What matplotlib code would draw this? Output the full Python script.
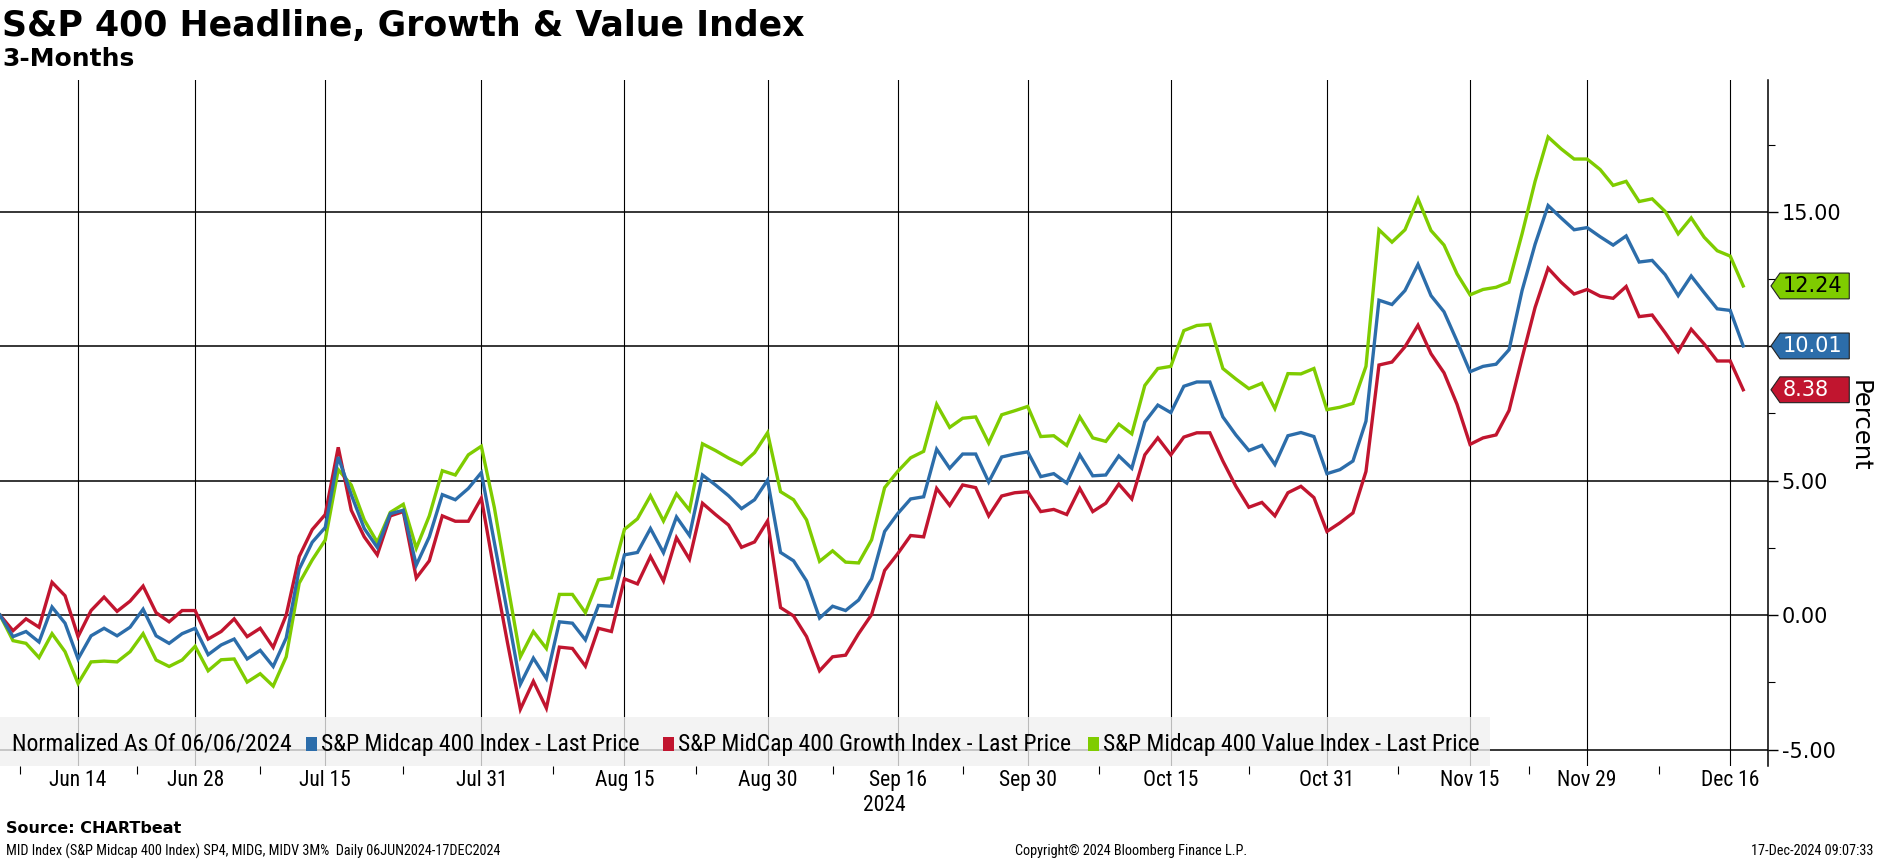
import matplotlib
matplotlib.use('Agg')
import matplotlib.pyplot as plt
import numpy as np
import pandas as pd
from matplotlib import font_manager
from matplotlib.patches import Polygon, Rectangle
from matplotlib.transforms import blended_transform_factory

# Trading days 06JUN2024 - 17DEC2024
holidays = ['2024-06-19', '2024-07-04', '2024-09-02', '2024-11-28']
dates = pd.bdate_range('2024-06-06', '2024-12-17', freq='C', holidays=holidays)

# Percent change since 06/06/2024
headline = [0.00, -0.80, -0.61, -1.00, 0.30, -0.30, -1.63, -0.77, -0.49, -0.77,
            -0.45, 0.22, -0.77, -1.05, -0.69, -0.49, -1.47, -1.11, -0.89, -1.63,
            -1.31, -1.91, -0.85, 1.71, 2.71, 3.26, 5.88, 4.48, 3.22, 2.52,
            3.77, 3.90, 1.86, 2.91, 4.48, 4.29, 4.71, 5.30, 2.70, 0.10,
            -2.57, -1.60, -2.36, -0.25, -0.30, -0.92, 0.36, 0.33, 2.24, 2.33,
            3.22, 2.32, 3.65, 2.96, 5.21, 4.84, 4.44, 3.96, 4.29, 5.02,
            2.33, 2.02, 1.27, -0.11, 0.33, 0.17, 0.56, 1.35, 3.11, 3.77,
            4.32, 4.40, 6.17, 5.46, 5.99, 5.99, 4.95, 5.88, 5.99, 6.07,
            5.15, 5.26, 4.91, 5.96, 5.18, 5.21, 5.92, 5.46, 7.18, 7.81,
            7.53, 8.51, 8.67, 8.67, 7.37, 6.70, 6.12, 6.31, 5.60, 6.67,
            6.79, 6.64, 5.26, 5.41, 5.73, 7.21, 11.71, 11.55, 12.07, 13.04,
            11.88, 11.28, 10.19, 9.05, 9.25, 9.33, 9.87, 12.07, 13.79, 15.23,
            14.77, 14.33, 14.41, 14.07, 13.76, 14.10, 13.13, 13.19, 12.66, 11.88,
            12.61, 11.99, 11.39, 11.33, 10.01]
growth = [0.00, -0.58, -0.14, -0.45, 1.22, 0.72, -0.80, 0.17, 0.67, 0.14,
          0.52, 1.08, 0.09, -0.25, 0.17, 0.17, -0.89, -0.61, -0.14, -0.80,
          -0.49, -1.20, 0.00, 2.18, 3.18, 3.74, 6.24, 3.90, 2.91, 2.24,
          3.69, 3.85, 1.38, 2.02, 3.69, 3.49, 3.49, 4.35, 1.60, -1.00,
          -3.50, -2.46, -3.46, -1.19, -1.24, -1.90, -0.49, -0.61, 1.35, 1.16,
          2.18, 1.27, 2.88, 2.08, 4.16, 3.74, 3.35, 2.52, 2.72, 3.50,
          0.28, -0.03, -0.80, -2.07, -1.55, -1.49, -0.69, 0.02, 1.66, 2.28,
          2.96, 2.91, 4.71, 4.08, 4.84, 4.74, 3.69, 4.43, 4.55, 4.59,
          3.85, 3.93, 3.74, 4.71, 3.85, 4.16, 4.87, 4.32, 5.96, 6.59,
          5.96, 6.62, 6.78, 6.78, 5.73, 4.79, 4.01, 4.19, 3.69, 4.55,
          4.79, 4.37, 3.11, 3.43, 3.80, 5.34, 9.30, 9.41, 9.98, 10.78,
          9.72, 9.01, 7.84, 6.35, 6.59, 6.70, 7.61, 9.56, 11.44, 12.90,
          12.38, 11.94, 12.11, 11.86, 11.78, 12.22, 11.10, 11.16, 10.50, 9.80,
          10.63, 10.08, 9.45, 9.45, 8.38]
value = [0.00, -0.95, -1.05, -1.58, -0.69, -1.36, -2.54, -1.74, -1.71, -1.74,
         -1.36, -0.69, -1.67, -1.91, -1.67, -1.16, -2.07, -1.66, -1.63, -2.49,
         -2.18, -2.64, -1.55, 1.19, 2.05, 2.79, 5.41, 4.84, 3.54, 2.71,
         3.82, 4.12, 2.49, 3.69, 5.37, 5.21, 5.96, 6.28, 4.00, 1.20,
         -1.55, -0.61, -1.24, 0.77, 0.77, 0.09, 1.31, 1.39, 3.19, 3.58,
         4.44, 3.50, 4.51, 3.90, 6.37, 6.12, 5.84, 5.60, 6.04, 6.78,
         4.59, 4.29, 3.54, 2.00, 2.39, 1.97, 1.94, 2.80, 4.74, 5.34,
         5.85, 6.09, 7.84, 6.98, 7.32, 7.37, 6.40, 7.45, 7.60, 7.76,
         6.64, 6.67, 6.31, 7.37, 6.59, 6.46, 7.10, 6.74, 8.54, 9.17,
         9.25, 10.58, 10.77, 10.81, 9.17, 8.78, 8.42, 8.62, 7.68, 8.98,
         8.97, 9.17, 7.64, 7.73, 7.87, 9.25, 14.33, 13.87, 14.33, 15.48,
         14.30, 13.76, 12.69, 11.91, 12.11, 12.19, 12.38, 14.18, 16.13, 17.78,
         17.34, 16.96, 16.96, 16.57, 15.98, 16.13, 15.38, 15.48, 15.01, 14.18,
         14.77, 14.05, 13.55, 13.35, 12.24]

tick_dates = ['2024-06-14', '2024-06-28', '2024-07-15', '2024-07-31', '2024-08-15',
              '2024-08-30', '2024-09-16', '2024-09-30', '2024-10-15', '2024-10-31',
              '2024-11-15', '2024-11-29', '2024-12-16']
tick_labels = ['Jun 14', 'Jun 28', 'Jul 15', 'Jul 31', 'Aug 15', 'Aug 30', 'Sep 16',
               'Sep 30', 'Oct 15', 'Oct 31', 'Nov 15', 'Nov 29', 'Dec 16']
y_ticks = [-5, 0, 5, 10, 15]

series_names = ['S&P Midcap 400 Index - Last Price',
                'S&P MidCap 400 Growth Index - Last Price',
                'S&P Midcap 400 Value Index - Last Price']
blue = '#2c6daa'
red = '#c1152f'
green = '#7fcc00'

# Fonts
names = {f.name for f in font_manager.fontManager.ttflist}
narrow = next((n for n in ['Liberation Sans Narrow', 'Roboto Condensed', 'Open Sans Condensed']
               if n in names), 'DejaVu Sans')

x = np.arange(len(dates))
tick_pos = dates.get_indexer(pd.to_datetime(tick_dates))
minor_pos = [tick_pos[0] - (tick_pos[1] - tick_pos[0]) / 2] + \
            [(a + b) / 2 for a, b in zip(tick_pos[:-1], tick_pos[1:])]

fig = plt.figure(figsize=(18.77, 8.59), dpi=100)
ax = fig.add_axes([0, 0.1083, 0.9419, 0.7986])

ax.plot(x, value, color=green, lw=2.4, zorder=3, solid_joinstyle='miter')
ax.plot(x, growth, color=red, lw=2.4, zorder=3, solid_joinstyle='miter')
ax.plot(x, headline, color=blue, lw=2.4, zorder=3, solid_joinstyle='miter')

ax.set_xlim(0, 135.9)
ax.set_ylim(-5.61, 19.9)

# grid
ax.set_axisbelow(True)
ax.set_xticks(tick_pos, tick_labels)
ax.set_xticks(minor_pos, minor=True)
ax.set_yticks(y_ticks, ['%.2f' % v for v in y_ticks])
ax.set_yticks([-2.5, 2.5, 7.5, 12.5, 17.5], minor=True)
ax.xaxis.grid(True, which='major', color='black', lw=0.8)
ax.yaxis.grid(True, which='major', color='black', lw=1.1)
ax.yaxis.tick_right()
ax.tick_params(axis='x', which='major', length=0, pad=3, labelsize=15.5, labelcolor='black')
ax.tick_params(axis='x', which='minor', length=6, width=0.8, direction='out')
ax.tick_params(axis='y', which='major', length=7, width=1, direction='out', pad=3, labelsize=15)
ax.tick_params(axis='y', which='minor', length=5, width=0.8, direction='out')
for lab in ax.get_xticklabels():
    lab.set_fontfamily(narrow)
for side in ['left', 'top', 'bottom']:
    ax.spines[side].set_visible(False)
ax.spines['right'].set_linewidth(1.1)

sep16 = tick_pos[tick_labels.index('Sep 16')]
ax.text(sep16 - 1, -0.058, '2024', transform=blended_transform_factory(ax.transData, ax.transAxes),
        ha='center', va='center', fontsize=15.5, family=narrow)

# legend band
ax.add_patch(Rectangle((0, 0), 0.8427, 0.0714, transform=ax.transAxes, facecolor='#f0f0f0',
                       edgecolor='none', alpha=0.78, zorder=1.5))
leg_y = 0.032
ax.text(0.0068, leg_y, 'Normalized As Of 06/06/2024', transform=ax.transAxes, va='center',
        fontsize=17, family=narrow, zorder=4)
for sx, col, name in zip([0.1731, 0.3751, 0.6153], [blue, red, green], series_names):
    ax.add_patch(Rectangle((sx, leg_y - 0.0105), 0.0062, 0.021, transform=ax.transAxes,
                           facecolor=col, edgecolor='none', zorder=4))
    ax.text(sx + 0.0085, leg_y, name, transform=ax.transAxes, va='center',
            fontsize=17, family=narrow, zorder=4)

# last value tags
tr = blended_transform_factory(ax.transAxes, ax.transData)
for series, col, tcol in [(value, green, 'black'), (headline, blue, 'white'), (growth, red, 'white')]:
    v = series[-1]
    h = 0.48
    ax.add_patch(Polygon([(1.0017, v), (1.0068, v + h), (1.046, v + h), (1.046, v - h), (1.0068, v - h)],
                         closed=True, transform=tr, facecolor=col, edgecolor='#222222', lw=0.8,
                         clip_on=False, zorder=5))
    ax.text(1.0082, v, '%.2f' % v, transform=tr, va='center', ha='left', fontsize=15,
            color=tcol, clip_on=False, zorder=6)

fig.text(0.9905, 0.504, 'Percent', rotation=270, ha='center', va='center', fontsize=17.5)

# titles and footer
fig.text(0.001, 0.99, 'S&P 400 Headline, Growth & Value Index', fontsize=25, fontweight='bold',
         va='top', ha='left')
fig.text(0.001, 0.945, '3-Months', fontsize=18, fontweight='bold', va='top', ha='left')
fig.text(0.003, 0.035, 'Source: CHARTbeat', fontsize=11.5, fontweight='bold', va='center', ha='left')
fig.text(0.003, 0.0095, 'MID Index (S&P Midcap 400 Index) SP4, MIDG, MIDV 3M%  Daily 06JUN2024-17DEC2024',
         fontsize=10.3, family=narrow, va='center', ha='left')
fig.text(0.6027, 0.0095, 'Copyright\u00a9 2024 Bloomberg Finance L.P.', fontsize=10.3, family=narrow,
         va='center', ha='center')
fig.text(0.998, 0.0095, '17-Dec-2024 09:07:33', fontsize=10.3, family=narrow, va='center', ha='right')

fig.savefig('out.png', dpi=100)
